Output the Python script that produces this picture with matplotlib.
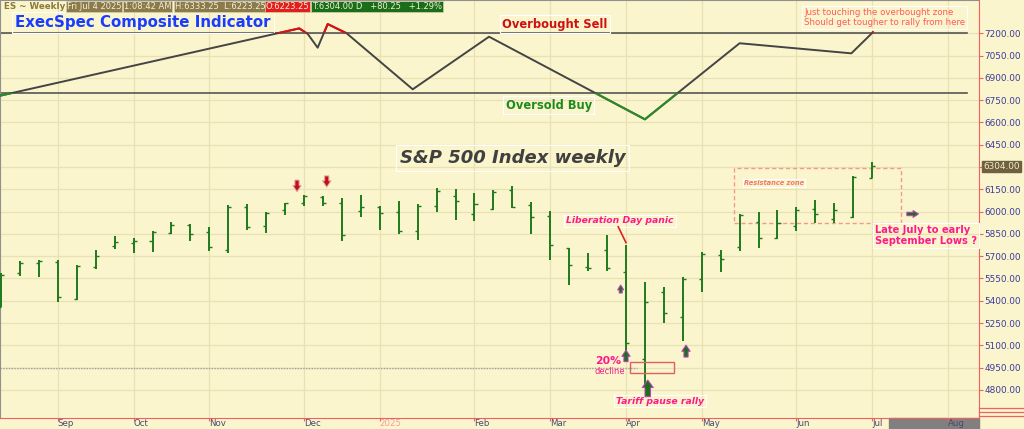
import numpy as np
import matplotlib
matplotlib.use("Agg")
import matplotlib.pyplot as plt
from matplotlib.patches import Rectangle
from matplotlib.lines import Line2D
import matplotlib.transforms as mtransforms

# weekly ES bars, week index 0 = Aug 12 2024 ... 46 = Jun 30 2025
opens  = [5360, 5585, 5656, 5659, 5410, 5625, 5766, 5787, 5804, 5856,
          5912, 5863, 5744, 6033, 5901, 6009, 6056, 6100, 6060, 6006,
          6033, 5999, 5867, 6036, 6103, 5984, 6015, 6143, 6044, 5970,
          5755, 5627, 5744, 5593, 5008, 5457, 5289, 5546, 5706, 5764,
          5930, 5820, 5903, 6015, 5950, 5964, 6223.25]
highs  = [5585, 5667, 5674, 5672, 5639, 5742, 5834, 5824, 5869, 5930,
          5918, 5896, 6042, 6053, 5995, 6060, 6114, 6105, 6089, 6112,
          6038, 6069, 6053, 6161, 6150, 6125, 6147, 6170, 6067, 6002,
          5757, 5721, 5840, 5773, 5528, 5495, 5560, 5726, 5741, 5984,
          5995, 6009, 6029, 6076, 6058, 6240, 6333.25]
lows   = [5356, 5564, 5562, 5394, 5405, 5612, 5746, 5723, 5726, 5851,
          5800, 5735, 5723, 5874, 5854, 5977, 6038, 6040, 5800, 5966,
          5874, 5847, 5809, 5995, 5945, 5935, 6013, 6026, 5851, 5674,
          5508, 5598, 5602, 5055, 4822, 5252, 5127, 5457, 5595, 5735,
          5755, 5813, 5867, 5925, 5921, 5959, 6223.25]
closes = [5575, 5656, 5665, 5423, 5634, 5703, 5795, 5804, 5865, 5908,
          5849, 5762, 6029, 5898, 5990, 6056, 6105, 6058, 5840, 6029,
          5993, 5867, 6036, 6139, 6069, 6053, 6134, 6033, 5966, 5777,
          5643, 5620, 5622, 5114, 5394, 5315, 5548, 5713, 5681, 5977,
          5820, 5921, 6011, 5982, 6013, 6235, 6304.00]

# composite indicator (drawn on price scale)
ind_x = [-0.05, 15.75, 16.2, 16.72, 17.25, 18.25, 21.74, 25.77, 34.0, 39.0, 44.9, 46.04]
ind_y = [6780, 7233, 7195, 7103, 7262, 7200, 6823, 7177, 6621, 7133, 7065, 7207]
overbought = 7200
oversold = 6795
decline_20 = 4945

month_pos = [3, 7, 11, 16, 20, 25, 29, 33, 37, 42, 46, 50]
month_lbl = ["Sep", "Oct", "Nov", "Dec", "2025", "Feb", "Mar", "Apr", "May", "Jun", "Jul", "Aug"]
price_ticks = np.arange(4800, 7201, 150)

BG = "#faf5cd"
BAR = "#1f7a1f"
PINK = "#ff1a8c"

fig = plt.figure(figsize=(10.24, 4.29), dpi=100, facecolor=BG)
ax = fig.add_axes([0, 11 / 429, 979 / 1024, 418 / 429], facecolor=BG)

x = np.arange(len(closes))
ax.vlines(x, lows, highs, color=BAR, lw=1.4, zorder=3)
ax.hlines(opens, x - 0.16, x, color=BAR, lw=1.0, zorder=3)
ax.hlines(closes, x, x + 0.16, color=BAR, lw=1.0, zorder=3)

# overbought / oversold
ax.plot([-0.1, 51.0], [overbought, overbought], color="#555555", lw=1.2, zorder=2)
ax.plot([-0.1, 51.0], [oversold, oversold], color="#555555", lw=1.2, zorder=2)

ax.plot(ind_x, ind_y, color="#444444", lw=1.4, zorder=4)
red_l, = ax.plot(ind_x, ind_y, color="#dd1111", lw=1.5, zorder=5)
red_l.set_clip_path(Rectangle((-5, overbought), 100, 2000, transform=ax.transData))
grn_l, = ax.plot(ind_x, ind_y, color="#2a8a2a", lw=1.5, zorder=5)
grn_l.set_clip_path(Rectangle((-5, 4000), 100, oversold - 4000, transform=ax.transData))

ax.set_xlim(-0.053, 51.64)
ax.set_ylim(4611, 7424)

# grid + axes
ax.set_xticks(month_pos)
ax.set_xticklabels(month_lbl)
ax.set_yticks(price_ticks)
ax.set_yticklabels(["" if v == 6300 else f"{v:.2f}" for v in price_ticks])
ax.grid(True, color="#e9e1b3", lw=0.9, zorder=0)
ax.yaxis.tick_right()
ax.tick_params(axis="y", colors="#f06060", labelcolor="#3b3b9a", length=3,
               pad=1, labelsize=6.4)
ax.tick_params(axis="x", colors="#f06060", labelcolor="#4a4a6a", length=2,
               pad=-1, labelsize=6.2)
for lab in ax.get_xticklabels():
    lab.set_horizontalalignment("left")
    if lab.get_text() == "2025":
        lab.set_color("#f2a0a0")
for s in ["right", "bottom"]:
    ax.spines[s].set_color("#f06060")
for s in ["left", "top"]:
    ax.spines[s].set_color("#909090")

# future area in date axis
trans = mtransforms.blended_transform_factory(ax.transData, ax.transAxes)
ax.add_patch(Rectangle((46.88, -0.027), 51.64 - 46.88, 0.027, transform=trans,
                       color="#808080", clip_on=False, zorder=1))
for yy in [408.3, 411.7, 415.7]:
    fig.add_artist(Line2D([979 / 1024, 1], [1 - yy / 429] * 2, color="#f06060", lw=0.9))

# last price box
ytr = mtransforms.blended_transform_factory(ax.transAxes, ax.transData)
ax.text(1.004, 6304, "6304.00", transform=ytr, fontsize=6.4, color="#f5ecc8",
        va="center", ha="left", clip_on=False,
        bbox=dict(boxstyle="square,pad=0.15", fc="#6e6040", ec="#6e6040"))

box = dict(boxstyle="square,pad=0.2", fc="none", ec="#ffffff", lw=0.8)
ax.text(0.74, 7275, "ExecSpec Composite Indicator", color="#1a3cff", fontsize=10.8,
        fontweight="bold", va="center", ha="left", bbox=box)
ax.text(29.25, 7262, "Overbought Sell", color="#d01010", fontsize=8.3,
        fontweight="bold", va="center", ha="center", bbox=box)
ax.text(28.93, 6717, "Oversold Buy", color="#1f8a1f", fontsize=8.3,
        fontweight="bold", va="center", ha="center", bbox=box)
ax.text(27.03, 6361, "S&P 500 Index weekly", color="#404040", fontsize=13,
        fontweight="bold", fontstyle="italic", va="center", ha="center", bbox=box)
ax.text(42.4, 7307, "Just touching the overbought zone\nShould get tougher to rally from here",
        color="#ff5a5a", fontsize=6.2, va="center", ha="left", linespacing=1.15, bbox=box)

# annotations
ax.text(32.68, 5937, "Liberation Day panic", color=PINK, fontsize=6.7,
        fontweight="bold", fontstyle="italic", va="center", ha="center", bbox=box)
ax.plot([32.59, 33.0], [5898, 5791], color="#e02020", lw=1.2, zorder=4)
ax.text(31.36, 4994, "20%", color=PINK, fontsize=7.8, fontweight="bold",
        va="center", ha="left")
ax.text(31.36, 4927, "decline", color=PINK, fontsize=6, va="center", ha="left")
ax.text(34.79, 4725, "Tariff pause rally", color=PINK, fontsize=6.7,
        fontweight="bold", fontstyle="italic", va="center", ha="center", bbox=box)
ax.add_patch(Rectangle((33.2, 4912), 35.53 - 33.2, 4986 - 4912, fc="none",
                       ec="#e06060", lw=1.0, zorder=4))
ax.plot([-0.05, 33.6], [decline_20, decline_20], color="#a0a0a0", lw=1.0,
        ls=(0, (1, 1)), zorder=2)

ax.add_patch(Rectangle((38.72, 5925), 47.53 - 38.72, 6291 - 5925, fc="none",
                       ec="#f59a8a", lw=1.0, ls=(0, (3, 2)), zorder=2))
ax.text(39.23, 6192, "Resistance zone", color="#f07a70", fontsize=4.8,
        fontweight="bold", fontstyle="italic", va="center", ha="left", bbox=box)
ax.text(46.15, 5839, "Late July to early\nSeptember Lows ?", color=PINK, fontsize=7.1,
        fontweight="bold", va="center", ha="left", linespacing=1.15, bbox=box)


def arrow(x0, y0, x1, y1, fc, ec, hw, hl, tw):
    ax.annotate("", xy=(x1, y1), xytext=(x0, y0), zorder=6,
                arrowprops=dict(arrowstyle=f"simple,head_width={hw},head_length={hl},tail_width={tw}",
                                fc=fc, ec=ec, lw=0.7, shrinkA=0, shrinkB=0))


arrow(15.63, 6212, 15.63, 6134, "#c0101a", "#e8a0a0", 0.6, 0.45, 0.3)
arrow(17.2, 6240, 17.2, 6165, "#c0101a", "#e8a0a0", 0.6, 0.45, 0.3)
arrow(32.72, 5452, 32.72, 5506, "#1e6e1e", "#c040c0", 0.45, 0.35, 0.22)
arrow(33.0, 4990, 33.0, 5068, "#1e6e1e", "#c040c0", 0.6, 0.45, 0.3)
arrow(34.15, 4754, 34.15, 4867, "#1e6e1e", "#c040c0", 0.8, 0.55, 0.4)
arrow(36.17, 5021, 36.17, 5102, "#1e6e1e", "#c040c0", 0.6, 0.45, 0.3)
arrow(47.83, 5984, 48.45, 5984, "#1e6e1e", "#c040c0", 0.5, 0.4, 0.25)

# header strip
hy = 1 - 6.5 / 429
fig.text(4 / 1024, hy, "ES ~ Weekly", color="#8b7a3a", fontsize=6.3,
         fontweight="bold", va="center")
hdr = [(67, "Fri Jul 4 2025", "#8b7b4b"), (124, "1:08:42 AM", "#8b7b4b"),
       (175, "H:6333.25  L:6223.25", "#8b7b4b"), (266, "O:6223.25", "#e41e1e"),
       (312, "T:6304.00 D   +80.25   +1.29%", "#1a6e1a")]
for px, s, c in hdr:
    fig.text(px / 1024, hy, s, color="#f5efd5", fontsize=6.0, va="center",
             bbox=dict(boxstyle="square,pad=0.1", fc=c, ec="#d8d0a8", lw=0.5))

fig.savefig("out.png", dpi=100, facecolor=BG)
